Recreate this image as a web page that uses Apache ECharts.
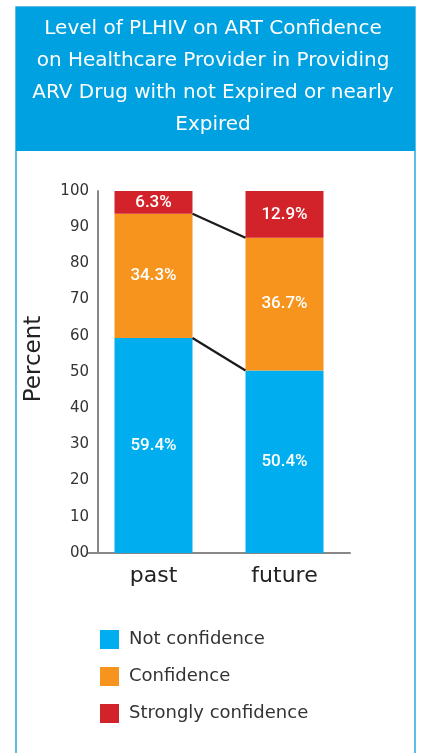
<!DOCTYPE html>
<html><head><meta charset="utf-8">
<script src="https://cdn.jsdelivr.net/npm/echarts@6/dist/echarts.min.js"></script>
<style>html,body{margin:0;padding:0;background:#fff}#c{width:422px;height:753px}</style>
</head><body><div id="c"></div>
<script>
const categories = ['past', 'future'];
const notConfidence = [59.4, 50.4];
const confidence = [34.3, 36.7];
const stronglyConfidence = [6.3, 12.9];
const yTicks = [0, 10, 20, 30, 40, 50, 60, 70, 80, 90, 100];
const seriesNames = ['Not confidence', 'Confidence', 'Strongly confidence'];
const titleText = 'Level of PLHIV on ART Confidence\non Healthcare Provider in Providing\nARV Drug with not Expired or nearly\nExpired';

const colors = ['#00AEEF', '#F7941D', '#D2232A'];
const BAR_W = 78;
const FONT = 'DejaVu Sans';

const cum1 = notConfidence.slice();
const cum2 = notConfidence.map((v, i) => v + confidence[i]);
const connectors = [[cum1[0], cum1[1]], [cum2[0], cum2[1]]];

const labelStyle = {
  show: true, position: 'inside', color: '#fff',
  fontFamily: 'Roboto', fontSize: 17, fontWeight: 500,
  formatter: p => p.value.toFixed(1) + '%'
};

const chart = echarts.init(document.getElementById('c'), null, {renderer: 'canvas'});
chart.setOption({
  animation: false,
  graphic: [
    {type: 'rect', shape: {x: 16, y: 7, width: 399, height: 760}, style: {fill: '#fff', stroke: '#29A8E0', lineWidth: 1.5}, z: -10},
    {type: 'rect', shape: {x: 16, y: 7, width: 399, height: 144}, style: {fill: '#00A1E0'}, z: -9},
    {type: 'text', x: 213, y: 13, z: 10,
      style: {text: titleText, fill: '#fff', font: 'normal 20px "DejaVu Sans"', lineHeight: 32, align: 'center', verticalAlign: 'top'}}
  ],
  legend: {
    orient: 'vertical', left: 95, top: 625,
    icon: 'rect', itemWidth: 19, itemHeight: 19, itemGap: 18,
    data: seriesNames,
    textStyle: {fontFamily: FONT, fontSize: 18, color: '#333', padding: [0, 0, 0, 5]}
  },
  grid: {left: 88, right: 72, top: 191, bottom: 200},
  xAxis: {
    type: 'category', data: categories,
    axisLine: {lineStyle: {color: '#888', width: 2}},
    axisTick: {show: false},
    axisLabel: {color: '#222', fontFamily: FONT, fontSize: 22, margin: 12}
  },
  yAxis: {
    type: 'value', min: 0, max: 100, interval: 10,
    offset: -10,
    name: 'Percent', nameLocation: 'middle', nameRotate: 90, nameGap: 52,
    nameTextStyle: {color: '#222', fontFamily: FONT, fontSize: 23, padding: [0, 0, 0, 26]},
    axisLine: {show: true, lineStyle: {color: '#888', width: 2}},
    axisTick: {show: false},
    splitLine: {show: false},
    axisLabel: {color: '#333', fontFamily: FONT, fontSize: 15, margin: 9,
      formatter: v => yTicks.indexOf(v) === 0 ? '00' : String(v)}
  },
  series: [
    {name: seriesNames[0], type: 'bar', stack: 's', barWidth: BAR_W, data: notConfidence, itemStyle: {color: colors[0]}, label: labelStyle},
    {name: seriesNames[1], type: 'bar', stack: 's', barWidth: BAR_W, data: confidence, itemStyle: {color: colors[1]}, label: labelStyle},
    {name: seriesNames[2], type: 'bar', stack: 's', barWidth: BAR_W, data: stronglyConfidence, itemStyle: {color: colors[2]}, label: labelStyle},
    {
      type: 'custom', silent: true, z: 5,
      data: connectors,
      renderItem: function (params, api) {
        const p1 = api.coord([0, api.value(0)]);
        const p2 = api.coord([1, api.value(1)]);
        return {
          type: 'line',
          shape: {x1: p1[0] + BAR_W / 2, y1: p1[1], x2: p2[0] - BAR_W / 2, y2: p2[1]},
          style: {stroke: '#1a1a1a', lineWidth: 2.2}
        };
      }
    }
  ]
});
</script></body></html>
